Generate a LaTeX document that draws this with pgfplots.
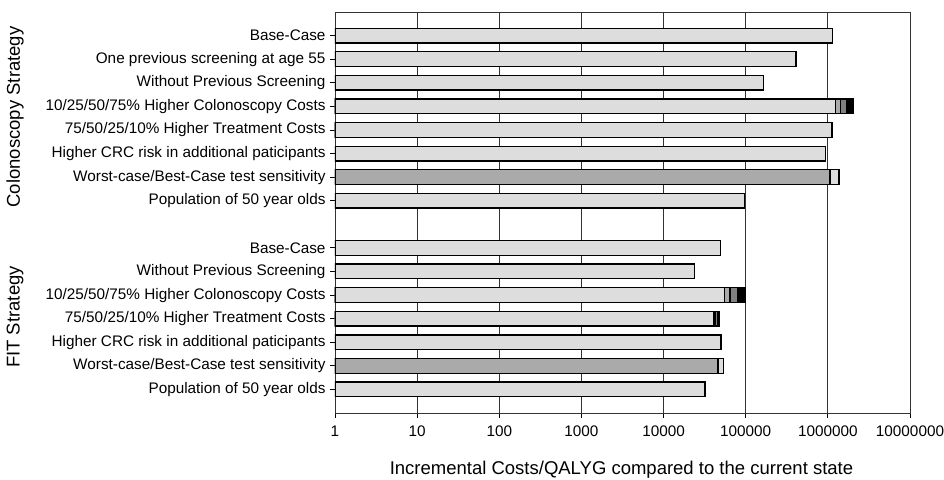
\documentclass[border=0pt]{standalone}
\usepackage{fontspec}
\setmainfont{Liberation Sans}
\usepackage{pgfplots}
\pgfplotsset{compat=1.18}
\definecolor{lightbar}{HTML}{DDDDDD}
\definecolor{midbar}{HTML}{AAAAAA}
\definecolor{darkbar}{HTML}{808080}
\begin{document}
\begin{tikzpicture}
\useasboundingbox (-335pt,-66pt) rectangle (609pt,413pt);
\begin{axis}[
  name=ax,
  at={(0,0)}, anchor=south west,
  scale only axis,
  width=575pt, height=401pt,
  xmode=log, log basis x=10,
  xmin=1, xmax=1e7,
  ymin=0, ymax=17,
  xtick={1,10,100,1000,10000,100000,1000000,10000000},
  xticklabels={1,10,100,1000,10000,100000,1000000,10000000},
  xminorticks=false,
  ytick={1,2,3,4,5,6,7,9,10,11,12,13,14,15,16},
  yticklabels={Population of 50 year olds,Worst-case/Best-Case test sensitivity,Higher CRC risk in additional paticipants,75/50/25/10\% Higher Treatment Costs,10/25/50/75\% Higher Colonoscopy Costs,Without Previous Screening,Base-Case,Population of 50 year olds,Worst-case/Best-Case test sensitivity,Higher CRC risk in additional paticipants,75/50/25/10\% Higher Treatment Costs,10/25/50/75\% Higher Colonoscopy Costs,Without Previous Screening,One previous screening at age 55,Base-Case},
  tick label style={font=\fontsize{15.3}{17}\selectfont, text=black},
  xticklabel style={yshift=-4pt},
  yticklabel style={xshift=-1pt},
  xtick pos=bottom, ytick pos=left,
  tick align=outside,
  major tick length=5pt,
  major tick style={draw=black, line width=0.8pt},
  x grid style={black!80, line width=0.8pt},
  xmajorgrids=true,
  axis line style={black!80, line width=0.8pt},
  every axis plot/.append style={xbar, bar shift=0pt, bar width=14.7pt, draw=black, line width=1.3pt},
]
% largest segments (drawn first, behind)
\addplot[fill=black] coordinates {(2.04e6,13) (1.14e6,12) (9.8e4,5) (4.8e4,4)};
\addplot[fill=darkbar] coordinates {(1.69e6,13) (1.12e6,12) (7.9e4,5) (4.5e4,4)};
\addplot[fill=midbar] coordinates {(1.43e6,13) (1.11e6,12) (6.45e4,5) (4.3e4,4)};
% main light bars
\addplot[fill=lightbar] coordinates {
 (1.15e6,16) (4.1e5,15) (1.64e5,14) (1.24e6,13) (1.10e6,12) (9.35e5,11) (1.37e6,10) (9.6e4,9)
 (4.89e4,7) (2.38e4,6) (5.5e4,5) (4.1e4,4) (5.0e4,3) (5.4e4,2) (3.2e4,1)};
% worst-case front bars
\addplot[fill=midbar] coordinates {(1.06e6,10) (4.6e4,2)};
\end{axis}
\node[rotate=90, font=\fontsize{18.5}{20}\selectfont] at (-320pt,296pt) {Colonoscopy Strategy};
\node[rotate=90, font=\fontsize{18.5}{20}\selectfont] at (-320pt,96pt) {FIT Strategy};
\node[font=\fontsize{18.5}{20}\selectfont] at (286.5pt,-57pt) {Incremental Costs/QALYG compared to the current state};
\end{tikzpicture}
\end{document}
